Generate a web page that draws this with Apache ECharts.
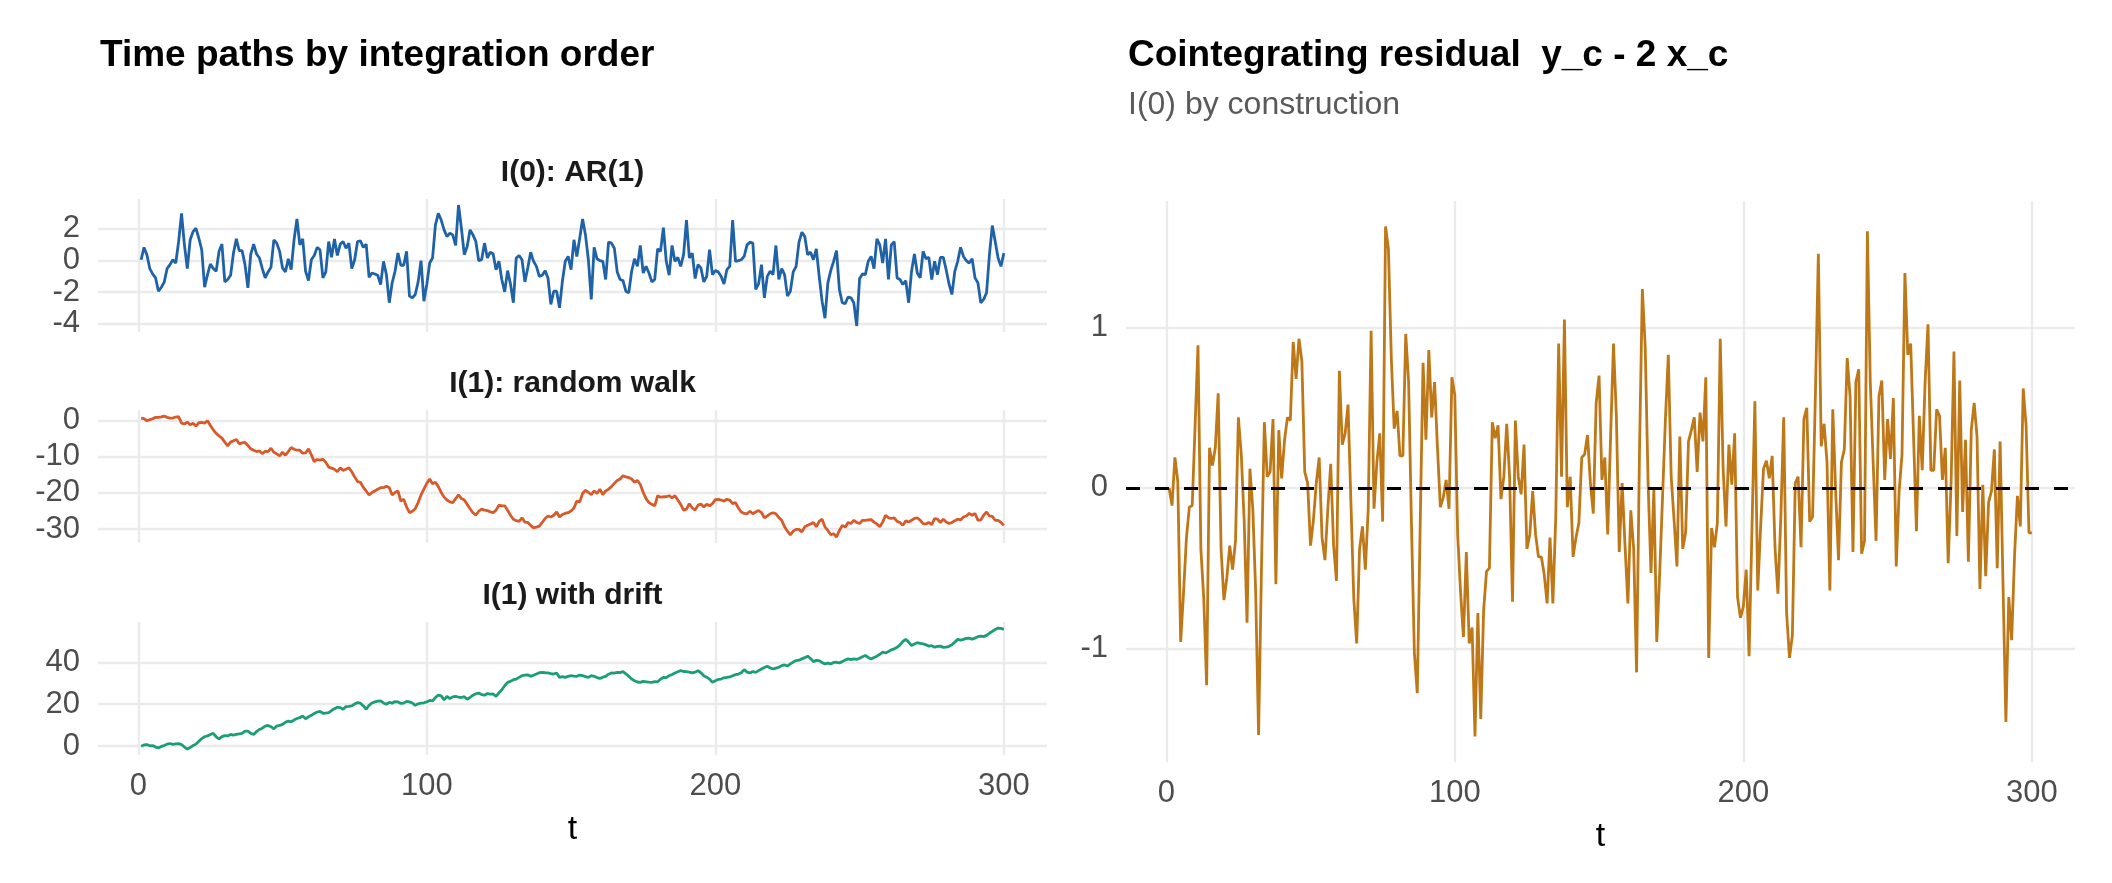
<!DOCTYPE html>
<html>
<head>
<meta charset="utf-8">
<script src="https://cdn.jsdelivr.net/npm/echarts@6/dist/echarts.min.js"></script>
<style>
  html, body { margin: 0; padding: 0; background: #ffffff; }
  #chart { width: 2112px; height: 883px; }
</style>
</head>
<body>
<div id="chart"></div>
<script>
// ---------------- DATA ----------------
const xTicks = [0, 100, 200, 300];
const panelTitles = ["I(0): AR(1)", "I(1): random walk", "I(1) with drift"];

const ar1 = [
 0.04,0.82,0.36,-0.52,-0.86,-1.11,-1.95,-1.70,-1.38,-0.52,
 -0.27,0.04,-0.17,1.20,2.97,0.98,-0.52,1.30,1.82,2.03,
 1.40,0.67,-1.70,-0.90,-0.23,-0.52,-0.69,0.57,1.03,-1.36,
 -1.21,-0.94,0.46,1.36,0.61,0.61,-0.27,-1.74,0.40,1.03,
 0.40,0.15,-0.52,-1.11,-0.73,-0.44,1.30,1.09,0.57,-0.48,
 -0.73,0.10,-0.59,1.30,2.62,0.98,1.36,-0.69,-1.28,0.04,
 0.31,0.82,0.67,-1.11,-0.73,1.19,0.19,1.36,0.31,1.03,
 1.19,0.77,1.09,-0.52,0.04,1.19,1.24,0.82,1.03,-1.07,
 -0.80,-0.86,-0.94,-1.53,-0.06,-0.90,-2.68,-1.42,-0.69,0.46,
 -0.31,-0.31,0.57,-2.26,-2.37,-2.16,-1.36,-0.02,-2.58,-1.53,
 -0.17,0.15,2.24,2.97,2.55,1.93,1.51,1.72,1.61,0.94,
 3.50,2.03,0.36,0.88,1.93,1.61,1.19,-0.02,0.04,1.09,
 0.15,0.52,0.40,-0.59,-0.06,-1.21,-1.99,-0.65,-1.49,-2.68,
 0.15,0.31,0.04,-1.36,-0.48,0.52,-0.06,-0.38,-1.01,-0.94,
 -0.65,-1.11,-2.79,-1.95,-1.95,-3.00,-1.32,-0.06,0.25,-0.59,
 1.30,0.25,1.40,2.62,1.61,0.04,-2.47,0.82,0.10,-0.02,
 -0.06,-1.21,1.15,1.09,0.77,-0.73,-1.21,-1.28,-1.95,-2.05,
 -0.69,0.10,-0.38,0.94,-0.80,-0.38,-0.80,-1.36,-1.21,0.73,
 0.57,2.07,-0.06,-0.94,0.94,-0.06,0.19,-0.38,0.36,2.55,
 0.15,0.46,-1.15,-0.27,-0.48,-1.36,-1.01,0.67,-0.90,-0.65,
 -0.73,-1.01,-1.49,-0.59,-0.38,2.55,-0.06,-0.02,0.04,0.25,
 0.98,1.15,1.09,-1.84,-1.49,-0.27,-2.37,-1.01,-0.69,-0.90,
 0.94,-1.21,-0.52,-0.90,-2.26,-1.95,-0.73,-0.38,1.15,1.78,
 1.51,0.36,0.52,0.04,0.73,-1.01,-2.58,-3.66,-1.42,-0.65,
 -0.06,0.61,-1.84,-2.68,-2.74,-2.32,-2.37,-2.68,-4.15,-1.15,
 -0.86,-0.90,-0.06,0.25,-0.52,1.36,0.98,-0.17,1.36,-1.21,
 0.98,1.19,-1.11,-1.21,-1.53,-1.28,-2.68,-0.69,0.40,-0.80,
 -1.11,0.57,0.10,0.19,-1.21,-0.06,-0.90,0.19,0.19,-0.59,
 -1.49,-2.16,-0.69,-0.06,0.82,0.25,-0.02,-0.17,0.10,-1.11,
 -1.42,-2.68,-2.47,-2.05,0.36,2.20,1.19,0.15,-0.38,0.46
];

const randomWalk = [
 0.65,0.46,-0.10,0.20,0.46,0.83,0.83,1.00,1.20,0.83,
 0.65,0.65,0.93,1.00,-0.74,-1.00,-0.46,-1.20,-0.83,-1.57,
 -0.65,-0.56,-0.74,-0.10,-1.39,-2.60,-3.60,-4.26,-4.90,-6.00,
 -7.04,-6.00,-5.65,-5.28,-6.48,-6.20,-6.10,-6.94,-7.87,-8.24,
 -8.60,-8.43,-9.17,-8.52,-8.60,-7.70,-8.80,-9.26,-9.80,-8.80,
 -9.60,-8.60,-7.50,-7.96,-8.24,-8.24,-9.07,-9.00,-7.87,-9.54,
 -11.40,-10.80,-11.00,-10.70,-11.60,-12.90,-13.20,-13.50,-14.20,-13.10,
 -13.80,-13.50,-13.10,-14.20,-15.60,-16.90,-17.10,-18.50,-19.50,-20.60,
 -19.90,-19.50,-19.00,-18.60,-18.60,-18.20,-18.60,-20.60,-19.90,-19.50,
 -22.30,-21.80,-23.90,-25.50,-25.10,-24.40,-22.70,-20.60,-19.00,-17.40,
 -16.20,-17.50,-17.10,-18.30,-19.90,-21.20,-22.00,-22.50,-22.70,-21.60,
 -20.60,-21.60,-22.00,-23.20,-24.40,-25.50,-26.20,-25.10,-24.50,-24.80,
 -24.90,-25.30,-25.50,-24.80,-23.40,-23.60,-23.60,-24.80,-26.20,-27.30,
 -27.70,-27.90,-26.90,-28.10,-28.20,-29.00,-29.70,-29.50,-29.20,-28.20,
 -27.10,-26.40,-26.70,-26.20,-25.30,-26.70,-26.00,-25.70,-25.50,-25.00,
 -24.20,-22.30,-22.50,-20.20,-19.30,-19.90,-20.50,-19.50,-20.20,-19.00,
 -20.50,-19.50,-19.00,-18.30,-17.40,-16.60,-16.20,-15.30,-15.60,-15.80,
 -16.20,-17.10,-16.60,-17.70,-19.90,-21.60,-22.70,-23.20,-23.60,-20.80,
 -21.20,-21.10,-21.10,-20.80,-21.40,-20.80,-22.00,-23.20,-24.80,-24.50,
 -23.00,-24.20,-24.80,-23.40,-23.10,-23.90,-23.20,-23.60,-23.00,-21.90,
 -21.80,-22.00,-22.30,-21.80,-22.00,-23.00,-22.70,-24.20,-25.30,-25.70,
 -25.80,-25.10,-25.80,-25.30,-24.90,-25.50,-26.90,-26.40,-25.80,-25.50,
 -25.80,-26.80,-27.60,-29.40,-30.60,-31.60,-30.60,-30.10,-30.10,-30.80,
 -29.40,-29.00,-28.60,-28.20,-29.40,-27.90,-27.30,-29.40,-30.40,-31.60,
 -31.30,-32.20,-30.40,-29.00,-29.50,-28.20,-28.50,-27.60,-28.20,-28.50,
 -27.60,-27.60,-27.50,-27.40,-28.10,-28.60,-29.40,-28.10,-26.20,-26.90,
 -27.10,-26.90,-27.90,-28.20,-29.00,-27.70,-28.10,-27.60,-27.10,-26.90,
 -27.60,-28.50,-28.60,-28.20,-28.80,-27.10,-27.30,-28.20,-27.30,-28.10,
 -28.50,-28.20,-27.70,-27.30,-27.50,-26.70,-26.40,-25.70,-26.20,-25.70,
 -27.60,-27.50,-26.20,-25.30,-26.40,-26.50,-27.60,-27.60,-28.20,-29.00
];

const drift = [
 0.0,0.6,0.8,0.2,0.3,-0.4,-0.8,-0.1,0.3,1.0,
 1.3,0.9,1.1,1.2,0.8,-0.4,-1.3,-0.6,0.3,1.0,
 2.4,3.6,4.5,4.9,5.6,6.1,4.5,3.5,4.6,5.1,
 4.9,5.6,5.3,5.6,5.9,6.1,7.2,7.2,6.1,5.6,
 7.0,8.0,8.6,9.6,9.9,9.3,8.3,9.6,9.9,10.4,
 11.4,12.0,11.6,12.5,13.2,13.6,14.4,13.1,14.0,14.7,
 15.6,16.3,16.6,15.7,15.8,16.0,17.0,17.9,18.6,18.4,
 17.6,18.9,19.0,19.2,20.1,20.8,20.5,19.2,17.6,19.5,
 20.6,21.1,21.5,21.6,20.6,20.0,20.9,20.5,21.3,21.1,
 20.4,20.5,21.4,21.1,20.6,19.5,20.2,20.5,20.7,21.1,
 21.8,21.6,23.2,24.3,24.0,22.1,23.7,22.7,23.5,23.7,
 23.4,23.2,23.6,22.4,23.3,24.3,25.0,25.3,24.6,24.3,
 25.1,24.8,24.9,23.7,25.4,26.9,28.8,30.4,30.9,31.7,
 32.0,32.8,33.6,33.9,34.0,33.3,33.8,34.4,35.0,35.2,
 35.0,34.9,34.6,34.4,34.9,32.8,33.2,32.8,33.3,33.6,
 33.4,33.3,33.9,33.6,33.2,32.8,33.6,33.3,32.7,32.3,
 32.9,33.3,34.3,34.9,34.8,35.2,35.1,35.5,34.5,33.3,
 32.0,31.2,30.6,30.4,30.9,30.7,30.5,30.4,30.8,30.7,
 31.9,32.8,32.7,33.6,34.2,34.9,35.5,36.0,35.6,35.5,
 35.3,34.9,35.3,36.0,35.0,33.6,32.9,32.0,30.4,31.2,
 31.8,32.0,32.6,32.8,33.0,33.6,34.1,34.4,35.0,36.5,
 35.3,34.9,35.6,35.2,36.0,36.8,37.5,38.1,37.3,36.8,
 37.2,37.6,38.4,38.7,38.2,39.2,40.1,40.8,41.0,41.6,
 42.2,42.9,41.8,40.3,40.9,40.8,39.9,39.2,39.6,39.2,
 39.9,40.0,39.7,40.3,41.1,41.6,41.3,41.6,41.4,41.9,
 42.6,43.2,42.3,41.6,42.3,42.9,43.8,44.8,44.4,45.1,
 45.9,46.4,47.1,48.3,49.9,50.9,49.6,48.0,48.7,49.3,
 49.0,48.8,48.3,47.7,47.9,47.2,47.6,47.7,47.1,47.2,
 47.6,48.3,49.6,50.9,50.6,50.9,51.4,51.5,51.0,51.5,
 52.2,52.5,52.2,52.8,53.8,54.7,55.6,56.3,56.1,55.7
];

const residual = [
 0.00,-0.11,0.19,0.04,-0.96,-0.65,-0.31,-0.12,-0.11,0.39,
 0.89,-0.38,-0.69,-1.23,0.25,0.14,0.25,0.59,-0.38,-0.70,
 -0.56,-0.36,-0.51,-0.33,0.44,0.21,-0.20,-0.84,0.12,-0.13,
 -0.65,-1.54,-0.50,0.41,0.07,0.10,0.43,-0.60,0.36,0.06,
 0.30,0.44,0.42,0.91,0.68,0.93,0.79,0.10,0.03,-0.36,
 -0.20,0.03,0.19,-0.31,-0.45,-0.13,0.15,-0.36,-0.58,0.73,
 0.27,0.34,0.52,-0.09,-0.69,-0.97,-0.38,-0.24,-0.51,-0.13,
 0.98,-0.13,0.16,0.34,-0.21,1.63,1.49,0.81,0.37,0.48,
 0.20,0.20,0.96,0.66,-0.24,-1.03,-1.28,-0.24,0.78,0.30,
 0.86,0.44,0.66,0.25,-0.12,-0.06,0.05,-0.13,0.69,0.58,
 -0.29,-0.65,-0.93,-0.40,-0.97,-0.87,-1.55,-0.78,-1.44,-0.76,
 -0.52,-0.50,0.41,0.31,0.39,-0.07,0.07,0.40,0.07,-0.71,
 0.42,0.07,-0.04,0.27,-0.38,-0.29,-0.02,-0.29,-0.43,-0.43,
 -0.54,-0.72,-0.31,-0.72,-0.18,0.90,0.07,1.05,-0.12,0.07,
 -0.43,-0.31,-0.22,0.19,0.21,0.33,0.03,-0.16,0.53,0.70,
 0.05,0.19,-0.29,0.32,0.90,0.45,-0.40,0.03,-0.36,-0.72,
 -0.14,-0.38,-1.15,0.21,1.24,0.88,0.03,-0.53,-0.01,-0.96,
 -0.54,-0.06,0.43,0.83,0.07,-0.20,-0.49,0.32,-0.38,-0.28,
 0.29,0.36,0.44,0.10,0.47,0.29,0.69,-1.06,-0.25,-0.37,
 -0.22,0.93,0.12,-0.24,0.27,0.02,0.34,-0.68,-0.81,-0.74,
 -0.51,-1.05,-0.25,0.54,-0.64,-0.24,0.12,0.17,0.06,0.20,
 -0.38,-0.66,-0.18,0.44,-0.78,-1.06,-0.92,0.03,0.07,-0.37,
 0.43,0.50,-0.21,-0.18,0.60,1.46,0.26,0.40,0.16,-0.64,
 0.49,-0.02,-0.45,0.16,0.24,0.81,0.57,-0.40,0.66,0.74,
 -0.41,-0.33,1.60,0.66,0.16,-0.33,0.57,0.67,0.05,0.43,
 0.18,0.56,-0.49,-0.02,0.21,1.34,0.83,0.90,0.32,-0.27,
 0.45,0.11,0.66,1.02,0.11,0.11,0.49,0.45,0.05,0.25,
 -0.47,0.03,0.85,-0.30,0.67,-0.15,0.30,-0.46,0.36,0.53,
 0.32,-0.63,0.02,-0.55,-0.09,-0.02,0.24,-0.50,0.29,-0.60,
 -1.46,-0.68,-0.95,-0.42,-0.05,-0.24,0.62,0.39,-0.28,-0.28
];

const tIndex = ar1.map((_, i) => i + 1);

// ---------------- CHART ----------------
const FONT = '"Liberation Sans", Arial, Helvetica, sans-serif';
const GRID_COLOR = '#ebebeb';

function limits(arr) {
  const mn = Math.min(...arr), mx = Math.max(...arr), r = mx - mn;
  return [mn - 0.05 * r, mx + 0.05 * r];
}
const xLim = limits(tIndex);

const grids = [
  { left: 98, top: 199, width: 949, height: 133 },
  { left: 98, top: 410, width: 949, height: 133 },
  { left: 98, top: 622, width: 949, height: 133 },
  { left: 1126, top: 201, width: 949, height: 561 }
];

function xAxis(gi, showLabels) {
  return {
    type: 'value', gridIndex: gi, min: xLim[0], max: xLim[1], splitNumber: 3,
    axisLine: { show: false }, axisTick: { show: false },
    axisLabel: { show: showLabels, color: '#4d4d4d', fontSize: 31, fontFamily: FONT, margin: 16,
                 showMinLabel: false, showMaxLabel: false,
                 formatter: v => (xTicks.indexOf(v) >= 0 ? String(v) : '') },
    splitLine: { show: true, showMinLine: false, showMaxLine: false, lineStyle: { color: GRID_COLOR, width: 2.4 } },
    name: showLabels ? 't' : '', nameLocation: 'middle', nameGap: 58,
    nameTextStyle: { color: '#000', fontSize: 34, fontFamily: FONT }
  };
}
function yAxis(gi, arr, split) {
  const l = limits(arr);
  return {
    type: 'value', gridIndex: gi, min: l[0], max: l[1], splitNumber: split,
    axisLine: { show: false }, axisTick: { show: false },
    axisLabel: { color: '#4d4d4d', fontSize: 31, fontFamily: FONT, margin: 18,
                 showMinLabel: false, showMaxLabel: false },
    splitLine: { show: true, showMinLine: false, showMaxLine: false, lineStyle: { color: GRID_COLOR, width: 2.4 } }
  };
}
function lineSeries(gi, arr, color) {
  return {
    type: 'line', xAxisIndex: gi, yAxisIndex: gi,
    data: tIndex.map((t, i) => [t, arr[i]]),
    showSymbol: false, symbol: 'none', smooth: false,
    lineStyle: { color: color, width: 2.8 }, itemStyle: { color: color },
    silent: true, animation: false
  };
}

const resSeries = lineSeries(3, residual, '#bf7817');
resSeries.markLine = {
  silent: true, symbol: ['none', 'none'], animation: false,
  label: { show: false },
  lineStyle: { color: '#000000', type: [14, 15], width: 3 },
  data: [{ yAxis: 0 }]
};

const stripX = 98 + 949 / 2;

const chart = echarts.init(document.getElementById('chart'), null, { renderer: 'canvas' });
chart.setOption({
  animation: false,
  backgroundColor: '#ffffff',
  textStyle: { fontFamily: FONT },
  grid: grids,
  xAxis: [xAxis(0, false), xAxis(1, false), xAxis(2, true), xAxis(3, true)],
  yAxis: [yAxis(0, ar1, 4), yAxis(1, randomWalk, 4), yAxis(2, drift, 3), yAxis(3, residual, 3)],
  series: [
    lineSeries(0, ar1, '#1f62a8'),
    lineSeries(1, randomWalk, '#d85a2a'),
    lineSeries(2, drift, '#1b9e77'),
    resSeries
  ],
  graphic: [
    { type: 'text', left: 100, top: 37, style: { text: 'Time paths by integration order', font: 'bold 37px ' + FONT, fill: '#000' } },
    { type: 'text', left: 1128, top: 37, style: { text: 'Cointegrating residual  y_c - 2 x_c', font: 'bold 37px ' + FONT, fill: '#000' } },
    { type: 'text', left: 1128, top: 89, style: { text: 'I(0) by construction', font: '32px ' + FONT, fill: '#5a5a5a' } },
    { type: 'text', x: stripX, y: 173, style: { text: panelTitles[0], font: 'bold 30px ' + FONT, fill: '#1a1a1a', align: 'center', verticalAlign: 'middle' } },
    { type: 'text', x: stripX, y: 384, style: { text: panelTitles[1], font: 'bold 30px ' + FONT, fill: '#1a1a1a', align: 'center', verticalAlign: 'middle' } },
    { type: 'text', x: stripX, y: 596, style: { text: panelTitles[2], font: 'bold 30px ' + FONT, fill: '#1a1a1a', align: 'center', verticalAlign: 'middle' } }
  ]
});
</script>
</body>
</html>
